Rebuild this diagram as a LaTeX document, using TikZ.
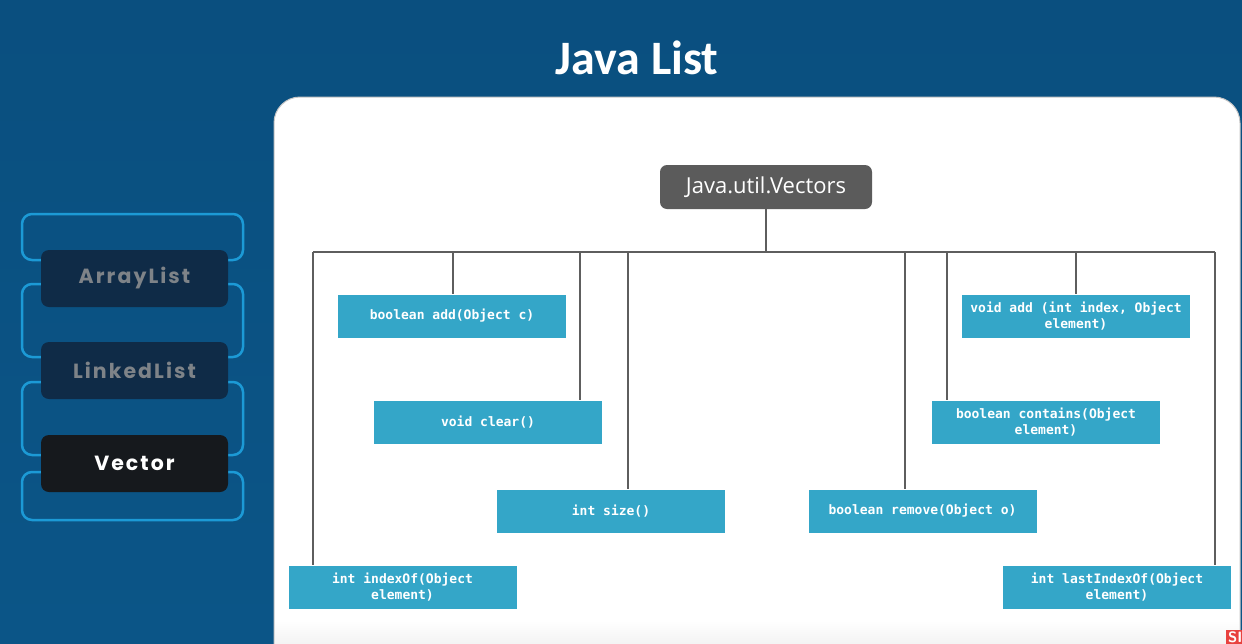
\documentclass[tikz,border=0pt]{standalone}
\usepackage{fontspec}
\setmainfont{Open Sans}
\newfontfamily\titlefont{Carlito}
\newfontfamily\tabfont[LetterSpace=10]{Poppins}
\newfontfamily\codefont{DejaVu Sans Mono}
\usetikzlibrary{positioning}

\definecolor{bgblue}{HTML}{0B5587}
\definecolor{bgtop}{HTML}{0A4F7F}
\definecolor{tabline}{HTML}{1C9AD6}
\definecolor{tabdark}{HTML}{0F2B47}
\definecolor{tabblack}{HTML}{16191D}
\definecolor{tabgray}{HTML}{7E8388}
\definecolor{rootgray}{HTML}{5B5B5B}
\definecolor{methodblue}{HTML}{34A6C8}
\definecolor{wiregray}{HTML}{5E5E5E}
\definecolor{logored}{HTML}{E8423F}

\begin{document}
\begin{tikzpicture}[x=1pt, y=-1pt,
    tab/.style = {shape=rectangle, rounded corners=8pt, fill=tabdark,
    minimum width=187pt, minimum height=57pt, inner sep=0pt,
    font=\tabfont\bfseries\fontsize{20.5}{24}\selectfont, text=tabgray},
    root/.style = {shape=rectangle, rounded corners=7pt, fill=rootgray,
    minimum width=212pt, minimum height=44pt, inner sep=0pt,
    font=\fontsize{22}{26}\selectfont, text=white},
    method/.style = {shape=rectangle, fill=methodblue, text=white,
    minimum width=228pt, minimum height=43pt, inner sep=0pt, align=center,
    font=\codefont\bfseries\fontsize{13}{15.5}\selectfont},
    wire/.style = {draw=wiregray, line width=1.5pt}]

  \useasboundingbox (0,0) rectangle (1242,643);
  \shade[top color=bgtop, bottom color=bgblue] (0,0) rectangle (1242,643);

  \node[text=white, font=\titlefont\bfseries\fontsize{48}{56}\selectfont] (title) at (637,58) {Java List};

  % left tabs
  \foreach \t/\b in {214/260, 284/357, 382/455, 472/520}
    \draw[tabline, line width=2.5pt, rounded corners=10pt] (22,\t) rectangle (243,\b);

  \node[tab] (arraylist) at (134.5,278.5) {ArrayList};
  \node[tab] (linkedlist) at (134.5,370.5) {LinkedList};
  \node[tab, fill=tabblack, text=white] (vector) at (134.5,463.5) {Vector};

  % panel
  \fill[white, draw=gray!45, line width=1pt, rounded corners=26pt] (274,97) rectangle (1240,700);
  \shade[top color=white, bottom color=gray!9] (275,620) rectangle (1239,643);

  \node[root] (vectors) at (766,187) {Java.util.Vectors};

  \node[method] (add) at (452,316) {boolean add(Object c)};
  \node[method] (clear) at (488,422) {void clear()};
  \node[method] (size) at (611,511) {int size()};
  \node[method] (indexof) at (402.5,587) {int indexOf(Object\\element)};
  \node[method] (remove) at (922.5,511) {boolean remove(Object o)};
  \node[method] (contains) at (1046,422) {boolean contains(Object\\element)};
  \node[method] (addat) at (1076,316) {void add (int index, Object\\element)};
  \node[method] (lastindexof) at (1117,587) {int lastIndexOf(Object\\element)};

  \coordinate (busl) at (313,252);
  \coordinate (busr) at (1215,252);
  \draw[wire] (vectors.south) -- (vectors.south |- busl);
  \draw[wire] (busl) -- (busr);
  \foreach \x/\n in {313/indexof, 453/add, 580/clear, 628/size, 905/remove, 947/contains, 1076/addat, 1215/lastindexof} {
    \coordinate (drop-\n) at (\x,252);
    \draw[wire] (drop-\n) -- (drop-\n |- \n.north);
  }

  \node[fill=logored, text=white, anchor=north west, inner sep=2pt,
    font=\sffamily\bfseries\fontsize{15}{15}\selectfont] (logo) at (1226,630) {SI};

\end{tikzpicture}
\end{document}
